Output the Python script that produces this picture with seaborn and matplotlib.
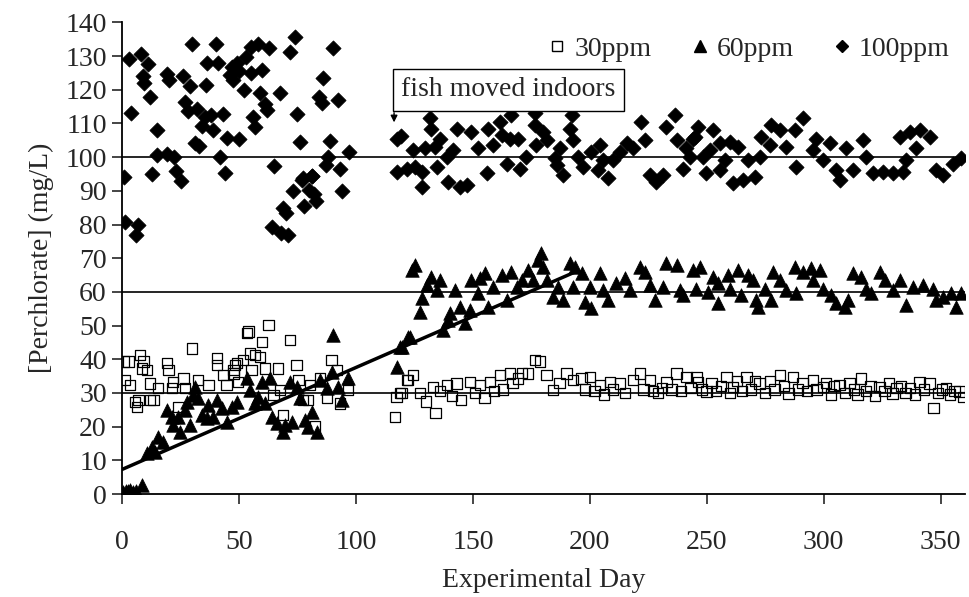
import matplotlib
matplotlib.use("Agg")
import matplotlib.pyplot as plt
from matplotlib.lines import Line2D
import seaborn as sns

# 30 ppm tank, day vs perchlorate (mg/L)
day30 = [0.6, 2.7, 7.7, 9.1, 8.4, 10.6, 1.3, 3.4, 5.6, 6.3, 7, 12, 13.4, 12, 15.5,
         19.1, 19.8, 21.9, 21.2, 24.1, 26.2, 26.9, 29.8, 32.6, 36.9, 40.5, 40.5,
         43.3, 44.7, 47.6, 48.3, 49.7, 53.3, 54, 62.6, 59.7, 71.8, 54.7, 56.8, 59,
         49, 51.8, 61.1, 66.8, 74.6, 75.4, 89.6, 91.8, 64.7, 68.9, 77.5, 80.3, 82.5,
         84.6, 87.5, 93.2, 96.7, 47.6, 55.4, 67.5, 79.6,
         116.7, 117.4, 118.8, 122.4, 119.5, 121.7, 124.5, 127.4, 130, 133, 134,
         136, 138.8, 141, 143, 145, 148.7, 151, 153, 155, 157.3, 159, 161.5, 163,
         165.8, 167, 169.4, 171, 173.6, 176.5, 178.6, 181.5, 184.3, 187, 190, 192.9,
         196.5, 198, 200, 202, 204.3, 206, 208.5, 210, 212.8, 215, 218.5, 221.4,
         223, 225.6, 227, 229.2, 231, 232.8, 235, 237.1, 239, 241.3, 243, 245.6,
         246.3, 248, 249.9, 252, 254, 256, 258.4, 260, 261.3, 263, 265, 267, 269,
         270.5, 272.6, 275, 277, 279, 281.2, 283, 285, 286.9, 289, 291, 293,
         295.4, 297, 299.7, 301, 303, 304.5, 306.8, 309, 311, 313, 314.5, 316.1,
         318, 320, 322, 323.9, 326, 328, 329.5, 331.1, 333, 335, 337, 339, 341,
         343, 345.3, 347, 349, 350.5, 352.4, 354, 356, 358.1, 359.5]
ppm30 = [39.3, 39.3, 41.2, 39.3, 37.3, 36.8, 33.8, 32.3, 27.4, 25.9, 27.9, 27.9,
         27.9, 32.8, 31.4, 38.8, 36.8, 33.3, 31.4, 25.9, 34.3, 31.4, 43.2, 33.8,
         32.3, 40.3, 38.3, 35.3, 32.3, 35.8, 38.3, 33.3, 47.7, 48.2, 50.1, 45.2,
         45.7, 41.7, 41.2, 40.7, 38.8, 39.8, 37.3, 37.3, 38.3, 33.8, 39.8, 36.8,
         29.4, 23.4, 27.9, 32.3, 20, 34.3, 28.4, 26.9, 30.9, 36.8, 36.8, 30.9, 27.9,
         22.9, 28.9, 29.9, 33.8, 29.9, 33.8, 35.3, 29.9, 27.5, 31.8, 24,
         30.5, 32.3, 29, 32.8, 28, 33.3, 30, 32.3, 28.5, 33.3, 30.5, 35.3, 31,
         35.8, 33, 34.3, 36, 35.8, 39.8, 39.3, 35.3, 30.9, 33, 35.8, 33.8,
         34.3, 31, 34.8, 30.5, 32.3, 29.5, 33.3, 31, 32.8, 30, 33.8, 35.8,
         31, 33.8, 30.5, 29.9, 31.5, 33.3, 31, 35.8, 30.5, 34.8, 31.5, 34.8,
         33.3, 31, 30.4, 33, 30.5, 32, 34.8, 30, 31.8, 33.5, 30.5, 34.8, 31,
         33.5, 32.8, 30, 33.5, 31, 35.3, 32, 29.8, 34.8, 31, 33, 30.5,
         33.8, 31, 31.8, 33, 29.5, 32, 32.3, 30, 33, 31, 29.5, 34.3,
         30.5, 32, 29, 31.8, 30.5, 33, 29.8, 31.4, 32, 30, 31.5, 29.5, 33.3,
         31, 32.8, 25.5, 30, 31, 31.4, 29.5, 30.5, 30.4, 28.8]

# 60 ppm tank
day60 = [0.5, 1.5, 2.5, 3.5, 4.5, 6, 8.7, 10.5, 12.7, 15.5, 17.6, 14.1, 19.1, 21.2,
         21.9, 24.8, 24.1, 26.9, 29.1, 27.6, 31.2, 32.6, 30.5, 34.1, 36.2, 36.9,
         40.5, 39, 42.6, 44.7, 46.9, 49, 53.3, 54.7, 58.3, 59.7, 63.2, 56.8, 61,
         64, 66.1, 68.9, 69.7, 72.5, 71.8, 74.6, 76.1, 78.2, 79.6, 83.2, 81.1,
         84.6, 87.5, 89.6, 90.3, 92.5, 96.7, 93.9,
         117.4, 118.8, 119.5, 122.4, 123.1, 124, 125.2, 127.4, 128.1, 130.2, 132.3,
         135.9, 134.5, 137.3, 140.2, 139.5, 142.3, 144.4, 146.6, 148.7, 149.4, 153,
         155.1, 156.5, 152.3, 158.7, 162.3, 164.4, 166.5, 168.7, 170.8, 173.6,
         175.8, 177.9, 179.3, 180, 181.5, 184.3, 186.5, 188.6, 191.5, 193.6, 192.9,
         196.5, 197.9, 200.7, 200, 204.3, 205.6, 207.9, 211.4, 215, 217.1, 221.4,
         223.5, 227.8, 225.6, 231.3, 232.8, 237.1, 238.5, 239.9, 244.1, 245.6, 247,
         250.4, 252.7, 254.7, 254.8, 259.1, 259.8, 263.4, 264.8, 267.7, 269.8,
         271.2, 272, 274.8, 277.6, 278.3, 281.2, 284, 287.6, 288.3, 291.2, 294.7,
         295.4, 298.3, 299.7, 303.3, 305.4, 309, 310.4, 312.5, 316.1, 318.2, 320.3,
         323.9, 326.1, 329.6, 332.5, 335.3, 338.2, 342.4, 346.7, 348.1, 351,
         354.6, 356.7, 358.8]
ppm60 = [0.5, 1, 0.8, 1.2, 0.6, 1, 2.7, 12.1, 14, 17, 15.5, 12.6, 24.9, 22.9,
         20.5, 18.5, 22.9, 24.9, 20.5, 27.4, 31.8, 28.4, 29.4, 23.4, 22.5, 26.4,
         27.9, 22.9, 25.4, 21.5, 25.9, 27.4, 34.3, 30.9, 28.9, 33.3, 34.3, 26.9,
         26.9, 22.9, 21, 18.5, 20.5, 21.5, 33.3, 31.8, 28.4, 22, 20, 18.5, 24.4,
         33.8, 31.4, 36.3, 47.2, 31.8, 34.3, 27.9,
         37.8, 43.7, 43.7, 46.7, 46.7, 66.5, 68, 54.1, 58.1, 62, 64.5,
         63.5, 60.5, 48.7, 53.6, 51.6, 60.5, 55.6, 50.7, 54.6, 63.5, 64,
         65.5, 55.6, 59.6, 61.5, 65, 57.6, 66, 61.5, 63.5, 66.5,
         63.5, 69.4, 71.4, 67.5, 63.5, 58.6, 61.5, 57.6, 68.5, 67.5, 61.5,
         65.5, 57.1, 55.1, 61.5, 65.5, 60.5, 57.6, 62.5, 64, 60.5, 67.5,
         66, 57.6, 62, 61.5, 68.5, 68, 60.5, 59, 66.5, 61, 67.5,
         60, 64.5, 56.6, 62.5, 65, 61, 66.5, 59, 65, 63.5,
         57.6, 55.6, 61, 57.6, 66, 63.5, 60.5, 67.5, 59.6, 66, 67,
         63.5, 66.5, 61, 59, 56.6, 55.6, 57.6, 65.5, 64.5, 61, 59.6,
         66, 63.5, 60.5, 63.5, 56.1, 61.5, 62, 61, 57.6, 58.6,
         59.6, 55.6, 59.6]

# 100 ppm tank
day100 = [1, 3, 4, 8, 9, 9.5, 11, 12, 15, 15, 19, 22, 13, 23, 25, 19, 20, 26, 29,
          30, 40, 36.5, 41, 36, 27, 28, 32, 35.5, 38, 34, 39, 43, 31, 33, 45, 50,
          42, 44, 47, 49, 47.5, 46, 50, 53, 55, 58, 63, 55, 52, 60, 59, 61, 62,
          56, 57, 67.5, 65, 72, 74, 75, 76, 73, 77, 81, 86, 84, 85.5, 90, 92.5,
          89, 88, 87, 93, 94, 97, 1.3, 7, 6, 64, 68, 71, 69, 70, 78, 83, 82, 80,
          77.5, 81.3,
          117.6, 119.2, 117.4, 121.7, 124.5, 125.2, 128.1, 128.1, 131.6, 132.3,
          135.9, 133.8, 129.5, 138.8, 134.5, 139.5, 143.3, 144.4, 147.3, 141.6,
          149.4, 152.3, 155.9, 156.5, 158.7, 161.5, 162.3, 164.4, 166.5, 165.8,
          169.4, 170.1, 172.9, 176.5, 176.5, 180, 177.2, 181.5, 185, 185.8, 188.6,
          187.2, 192.2, 191.5, 192.9, 195, 197.1, 200.7, 204.3, 203.6, 207.9,
          205.6, 209.9, 212.8, 215.7, 218.5, 222.1, 223.5, 225.6, 228.5, 231.3,
          232.8, 236.3, 237.1, 239.9, 242.7, 244.9, 246.3, 252.7, 244.1, 241.3,
          248.4, 251.3, 255.6, 259.8, 263.4, 257.7, 255.6, 249.9, 261.3, 265.5,
          270.5, 267.7, 272.6, 273.4, 277.6, 281.2, 276.9, 284, 287.6, 291.2,
          288.3, 295.4, 296.9, 299.7, 302.6, 305.4, 306.8, 309.7, 312.5, 316.8,
          318.2, 321.1, 325.4, 329.6, 333.9, 332.5, 336.8, 341, 345.3, 339.6,
          335.3, 348.1, 351, 355.3, 358.8]
ppm100 = [94, 129, 113, 130.5, 124, 122, 127.5, 118, 108, 100.5, 101, 100, 95, 96,
          93, 124.6, 123, 124, 121, 133.6, 133.6, 128, 128, 121.4, 116.4, 113.7,
          114.2, 111.8, 112.6, 109.2, 108.2, 112.7, 104.2, 103.3, 105.8, 105.3,
          100.1, 95.2, 126.8, 127.8, 122.8, 124.5, 125.5, 129.6, 132.7, 133.6,
          132.4, 125.1, 119.9, 125.8, 119.1, 115.9, 113.9, 112, 108.8, 119.1,
          97.4, 131.3, 135.7, 112.9, 104.5, 89.9, 93.2, 94.5, 123.5, 117.9, 116.1,
          132.4, 117.1, 104.8, 100.1, 97.8, 96.4, 89.9, 101.6, 80.6, 80, 77, 79.3,
          77.4, 77, 84.8, 83.5, 85.6, 87, 89.2, 90.2, 93.7, 94.5,
          105.3, 106.3, 95.5, 96.6, 102.1, 97.1, 95.6, 91, 111.5, 108.5,
          105.5, 103.1, 102.6, 100.1, 97.1, 92.7, 108.5, 91.2, 91.7, 102.1,
          107.5, 102.6, 95.2, 108.5, 103.6, 110.5, 106.5, 98.1, 112.5, 105.5,
          105.5, 96.6, 100.1, 113, 109.5, 107.5, 103.6, 105, 99.6, 97.6, 94.7,
          102.6, 112.5, 108.5, 105, 100.1, 97.1, 101.6, 103.6, 96.1, 93.7,
          99.1, 99.1, 101.6, 104.1, 102.6, 110.5, 105, 94.7, 92.7, 94.7,
          109, 112.5, 105, 96.6, 100.1, 106, 109, 108, 105.5, 102.6,
          100.1, 102.1, 104.1, 104.6, 103.1, 99.1, 96.1, 95.2, 92.2, 93.2,
          94.2, 99.1, 100.1, 106, 109.5, 108, 103.6, 103.1, 108, 111.5,
          97.1, 102.1, 105.5, 99.1, 104.1, 96.1, 93.2, 102.6, 96.1, 105,
          100.1, 95.2, 95.6, 95.2, 95.6, 106, 107.5, 108, 106, 102.6,
          99.1, 96.1, 94.7, 98.1, 99.6]

# target concentrations and outdoor uptake trend
targets = [30, 60, 100]
trend_day = [0, 195]
trend_ppm = [7.3, 66.3]

sns.set_style("ticks")
plt.rcParams['font.family'] = ['Liberation Serif', 'DejaVu Serif']

fig = plt.figure(figsize=(9.69, 5.97), dpi=100)
ax = fig.add_axes([0.126, 0.1725, 0.87, 0.79])

for t in targets:
    ax.axhline(t, color="black", lw=1.2, zorder=1)

sns.lineplot(x=trend_day, y=trend_ppm, color="black", lw=2.5, ax=ax, zorder=2)

sns.scatterplot(x=day100, y=ppm100, marker="D", s=60, color="black",
                edgecolor="black", linewidth=0.5, ax=ax, zorder=3)
sns.scatterplot(x=day60, y=ppm60, marker="^", s=95, color="black",
                edgecolor="black", linewidth=0.5, ax=ax, zorder=3)
sns.scatterplot(x=day30, y=ppm30, marker="s", s=55, facecolor="none",
                edgecolor="black", linewidth=0.9, ax=ax, zorder=4)

ax.set_xlim(0, 360.5)
ax.set_ylim(0, 140)
ax.set_xticks(range(0, 351, 50))
ax.set_yticks(range(0, 141, 10))
sns.despine(ax=ax)
for s in ["left", "bottom"]:
    ax.spines[s].set_linewidth(1.3)
    ax.spines[s].set_color("black")
ax.tick_params(axis="x", direction="out", length=7, width=1.2, pad=19, labelsize=20)
ax.tick_params(axis="y", direction="out", length=7, width=1.2, pad=4, labelsize=20)
ax.set_xlabel("Experimental Day", fontsize=20, labelpad=9)
ax.set_ylabel("[Perchlorate] (mg/L)", fontsize=20, labelpad=8)

# annotation
ax.annotate("fish moved indoors", xy=(119.3, 120), ha="left", va="center",
            fontsize=20,
            bbox=dict(boxstyle="square,pad=0.3", fc="white", ec="black", lw=1))
ax.annotate("", xy=(116.3, 109.5), xytext=(116.3, 114),
            arrowprops=dict(arrowstyle="-|>", color="black", lw=1, mutation_scale=10))

handles = [
    Line2D([], [], ls="none", marker="s", mfc="none", mec="black", ms=7),
    Line2D([], [], ls="none", marker="^", color="black", ms=8),
    Line2D([], [], ls="none", marker="D", color="black", ms=6),
]
ax.legend(handles, ["30ppm", "60ppm", "100ppm"], ncol=3, frameon=False,
          loc="center right", bbox_to_anchor=(1.006, 0.918),
          bbox_transform=fig.transFigure, fontsize=20,
          handlelength=0.6, handletextpad=0.3, columnspacing=1.45)

fig.savefig("out.png", dpi=100)
